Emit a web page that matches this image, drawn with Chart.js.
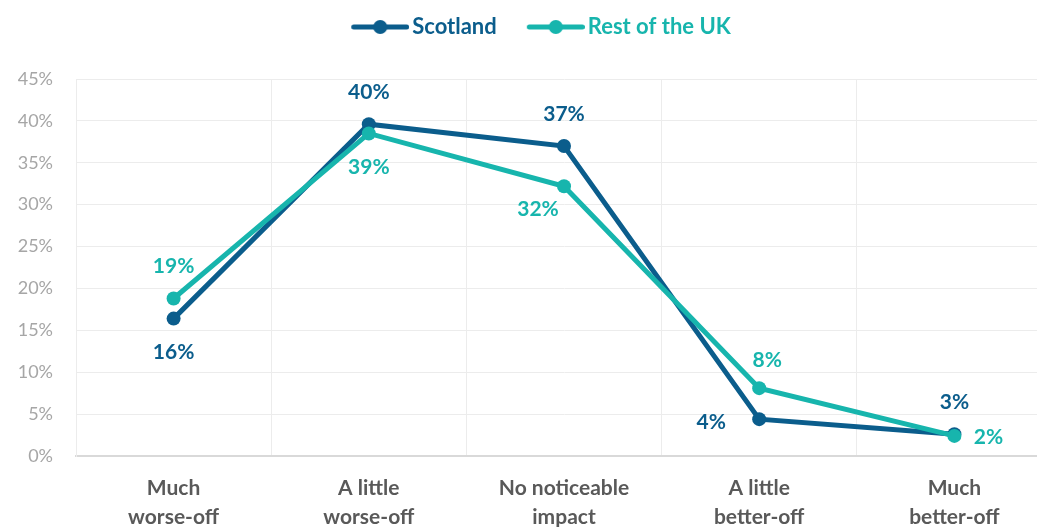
<!DOCTYPE html>
<html>
<head>
<meta charset="utf-8">
<script src="https://cdn.jsdelivr.net/npm/chart.js@4/dist/chart.umd.min.js"></script>
<style>
  html, body { margin: 0; padding: 0; background: #ffffff; overflow: hidden; }
  #wrap { position: absolute; left: 0; top: 0; width: 1062px; height: 548px; }
</style>
</head>
<body>
<div id="wrap"><canvas id="chart" width="1062" height="548"></canvas></div>
<script>
// Survey answers: expected effect on household finances
const categories = [
  ['Much', 'worse-off'],
  ['A little', 'worse-off'],
  ['No noticeable', 'impact'],
  ['A little', 'better-off'],
  ['Much', 'better-off']
];
const scotland = [16.4, 39.6, 37.0, 4.4, 2.6];
const restOfUK = [18.8, 38.5, 32.2, 8.1, 2.4];
const yTickMax = 45;
const yTickStep = 5;

// where each value label sits relative to its point
const scotlandLabelPos = ['below', 'above', 'above', 'left', 'above'];
const restOfUKLabelPos = ['above', 'below', 'belowLeft', 'aboveRight', 'right'];

const SCOT_COLOR = '#0b5d8c';
const RUK_COLOR = '#17b5ad';
const FONT = 'Lato, "Open Sans", "DejaVu Sans", sans-serif';

const labelOffsets = {
  above: [0, -32],
  below: [0, 34],
  left: [-48, 3],
  right: [34, 1],
  belowLeft: [-26, 23],
  aboveRight: [8, -28]
};

// legend marker: short line with a dot in the middle,
// with blank space on the left to keep the items apart
function legendMarker(color) {
  const c = document.createElement('canvas');
  c.width = 86; c.height = 16;
  const g = c.getContext('2d');
  g.strokeStyle = color;
  g.lineWidth = 5;
  g.lineCap = 'round';
  g.beginPath(); g.moveTo(30.5, 8); g.lineTo(83.5, 8); g.stroke();
  g.fillStyle = color;
  g.beginPath(); g.arc(57, 8, 7, 0, Math.PI * 2); g.fill();
  return c;
}

const valueLabels = {
  id: 'valueLabels',
  afterDatasetsDraw(chart) {
    const ctx = chart.ctx;
    ctx.save();
    ctx.font = 'bold 21px ' + FONT;
    ctx.textAlign = 'center';
    ctx.textBaseline = 'middle';
    chart.data.datasets.forEach((ds, i) => {
      const meta = chart.getDatasetMeta(i);
      ctx.fillStyle = ds.borderColor;
      meta.data.forEach((pt, j) => {
        const off = labelOffsets[ds.labelPos[j]];
        ctx.fillText(Math.round(ds.data[j]) + '%', pt.x + off[0], pt.y + off[1]);
      });
    });
    ctx.restore();
  }
};

// extra room between the legend and the plot
const legendSpacer = {
  id: 'legendSpacer',
  beforeInit(chart) {
    const fit = chart.legend.fit;
    chart.legend.fit = function () {
      fit.call(this);
      this.height += 31;
    };
  }
};

new Chart(document.getElementById('chart'), {
  type: 'line',
  data: {
    labels: categories,
    datasets: [
      {
        label: 'Scotland',
        data: scotland,
        labelPos: scotlandLabelPos,
        borderColor: SCOT_COLOR,
        backgroundColor: SCOT_COLOR,
        borderWidth: 5,
        pointRadius: 7,
        pointHoverRadius: 7,
        pointBorderWidth: 0,
        tension: 0,
        order: 1
      },
      {
        label: 'Rest of the UK',
        data: restOfUK,
        labelPos: restOfUKLabelPos,
        borderColor: RUK_COLOR,
        backgroundColor: RUK_COLOR,
        borderWidth: 5,
        pointRadius: 7,
        pointHoverRadius: 7,
        pointBorderWidth: 0,
        tension: 0,
        order: 0
      }
    ]
  },
  options: {
    responsive: false,
    animation: false,
    devicePixelRatio: 1,
    layout: { padding: { top: 6, right: 10, left: 10, bottom: 0 } },
    plugins: {
      tooltip: { enabled: false },
      legend: {
        position: 'top',
        labels: {
          usePointStyle: true,
          pointStyleWidth: 70,
          padding: 10,
          font: { family: FONT, size: 22, weight: 'bold' },
          generateLabels(chart) {
            return chart.data.datasets.map((ds, i) => ({
              text: ds.label,
              fontColor: ds.borderColor,
              pointStyle: legendMarker(ds.borderColor),
              fillStyle: ds.borderColor,
              strokeStyle: ds.borderColor,
              lineWidth: 0,
              hidden: false,
              datasetIndex: i
            }));
          }
        }
      }
    },
    scales: {
      x: {
        offset: true,
        grid: { offset: true, color: '#ececec', lineWidth: 1, drawTicks: false },
        border: { color: '#d9d9d9', width: 2 },
        ticks: {
          color: '#595959',
          padding: 18,
          maxRotation: 0,
          autoSkip: false,
          font: { family: FONT, size: 21, weight: 'bold', lineHeight: 1.38 }
        },
        afterFit(scale) { scale.height = 92; }
      },
      y: {
        min: 0,
        max: yTickMax,
        grid: { color: '#ececec', lineWidth: 1, drawTicks: false },
        border: { color: '#ececec', width: 1 },
        ticks: {
          stepSize: yTickStep,
          color: '#a6a6a6',
          padding: 23,
          font: { family: FONT, size: 18 },
          callback: (v) => v + '%'
        },
        afterFit(scale) { scale.width = 66; }
      }
    }
  },
  plugins: [valueLabels, legendSpacer]
});
</script>
</body>
</html>
